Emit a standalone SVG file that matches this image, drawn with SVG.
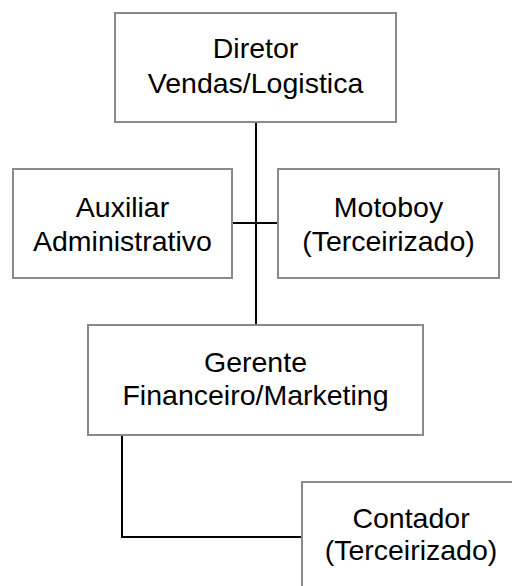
<svg xmlns="http://www.w3.org/2000/svg" width="512" height="586" viewBox="0 0 512 586">
<style>
.box{fill:#fff;stroke:#8a8a8a;stroke-width:2}
.t{font-family:"Liberation Sans",Arial,sans-serif;font-size:28.5px;fill:#000;text-anchor:middle}
.c{fill:none;stroke:#000;stroke-width:2}
</style>
<rect width="512" height="586" fill="#fff"/>
<g id="connectors">
<line class="c" x1="256" y1="122" x2="256" y2="325"/>
<line class="c" x1="232" y1="223" x2="278" y2="223"/>
<polyline class="c" points="122,435 122,537 302,537"/>
</g>
<g id="diretor">
<rect class="box" x="115" y="13" width="281" height="109"/>
<text class="t" x="255.5" y="58">Diretor</text>
<text class="t" x="255.5" y="93">Vendas/Logistica</text>
</g>
<g id="auxiliar">
<rect class="box" x="13" y="169" width="219" height="109"/>
<text class="t" x="122.5" y="217">Auxiliar</text>
<text class="t" x="122.5" y="251">Administrativo</text>
</g>
<g id="motoboy">
<rect class="box" x="278" y="169" width="221" height="109"/>
<text class="t" x="388.5" y="217">Motoboy</text>
<text class="t" x="388.5" y="251">(Terceirizado)</text>
</g>
<g id="gerente">
<rect class="box" x="88" y="325" width="335" height="110"/>
<text class="t" x="255.5" y="372">Gerente</text>
<text class="t" x="255.5" y="405">Financeiro/Marketing</text>
</g>
<g id="contador">
<rect class="box" x="302" y="482" width="220" height="112"/>
<text class="t" x="411" y="528">Contador</text>
<text class="t" x="411" y="560">(Terceirizado)</text>
</g>
</svg>
